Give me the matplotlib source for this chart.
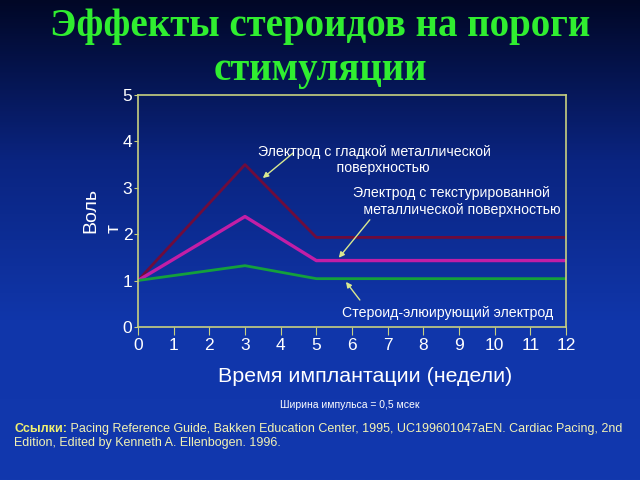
import numpy as np
import matplotlib
matplotlib.use("Agg")
import matplotlib.pyplot as plt
from matplotlib.colors import LinearSegmentedColormap

plt.rcParams['font.family'] = ['Liberation Sans', 'DejaVu Sans']

# data
weeks = [0, 3, 5, 12]
smooth = [1.0, 3.5, 1.93, 1.93]      # гладкая поверхность
textured = [1.0, 2.38, 1.43, 1.43]   # текстурированная
steroid = [1.0, 1.32, 1.04, 1.04]    # стероид-элюирующий
xticks = list(range(0, 13))
yticks = list(range(0, 6))

title = "Эффекты стероидов на пороги\nстимуляции"
xlabel = "Время имплантации (недели)"
ylabel = "Воль\nт"
note = "Ширина импульса = 0,5 мсек"
ref_head = "Ссылки:"
ref_line1 = " Pacing Reference Guide, Bakken Education Center, 1995, UC199601047aEN. Cardiac Pacing, 2nd"
ref_line2 = "Edition, Edited by Kenneth A. Ellenbogen. 1996."

fig = plt.figure(figsize=(6.4, 4.8), dpi=100)

# background gradient
bg = fig.add_axes([0, 0, 1, 1], zorder=-10)
cmap = LinearSegmentedColormap.from_list('bg', ['#010726', '#0a2480', '#1036aa', '#1238ae'])
grad = np.linspace(0, 1, 256).reshape(-1, 1)
bg.imshow(grad, aspect='auto', cmap=cmap, extent=[0, 1, 0, 1], origin='upper')
bg.axis('off')

ax = fig.add_axes([0.2156, 0.319, 0.6688, 0.483])
ax.set_facecolor('none')
ax.plot(weeks, smooth, color='#6e0c3c', lw=2.0)
ax.plot(weeks, textured, color='#c21ea6', lw=2.4)
ax.plot(weeks, steroid, color='#14a03c', lw=2.0)

ax.set_xlim(0, 12)
ax.set_ylim(0, 5)
ax.set_xticks(xticks)
ax.set_yticks(yticks)
spine_col = '#c8d080'
for s in ax.spines.values():
    s.set_color(spine_col)
    s.set_linewidth(1.2)
ax.tick_params(axis='x', colors=spine_col, labelcolor='white', labelsize=12.5, length=6, pad=2)
ax.tick_params(axis='y', colors=spine_col, labelcolor='white', labelsize=12.5, length=3, pad=1)

ax.set_xlabel(xlabel, color='white', fontsize=15.4)
ax.xaxis.set_label_coords(0.53, -0.175)
ax.set_ylabel(ylabel, color='white', fontsize=14, labelpad=0, multialignment='left', linespacing=1.45)

arrow = dict(arrowstyle='-|>', color='#d8e890', lw=1.0, mutation_scale=8, shrinkA=0, shrinkB=0)
ax.annotate('', xy=(3.5, 3.21), xytext=(4.35, 3.75), arrowprops=arrow)
ax.annotate('', xy=(5.63, 1.49), xytext=(6.5, 2.31), arrowprops=arrow)
ax.annotate('', xy=(5.83, 0.97), xytext=(6.22, 0.58), arrowprops=arrow)

lab = dict(color='white', fontsize=10.2, ha='center', va='center', linespacing=1.25)
ax.text(6.64, 3.6, "Электрод с гладкой металлической\n    поверхностью", **lab)
ax.text(8.8, 2.7, "Электрод с текстурированной\n     металлической поверхностью", **lab)
ax.text(8.69, 0.3, "Стероид-элюирующий электрод", **lab)

fig.text(0.5, 0.899, title, ha='center', va='center', color='#30ee30', fontsize=28,
         fontweight='bold', family='Liberation Serif', linespacing=1.22)

fig.text(0.547, 0.157, note, ha='center', va='center', color='white', fontsize=7.5)

t1 = fig.text(0.022, 0.100, ref_head, color='#f0f070', fontsize=9.0, fontweight='bold', va='baseline')
fig.canvas.draw()
ax.annotate(ref_line1, xy=(1, 0), xycoords=t1, va='bottom', ha='left', color='#f2f2b4', fontsize=9.0,
            annotation_clip=False)
fig.text(0.022, 0.071, ref_line2, color='#f2f2b4', fontsize=9.0, va='baseline')

fig.savefig('out.png', dpi=100)
